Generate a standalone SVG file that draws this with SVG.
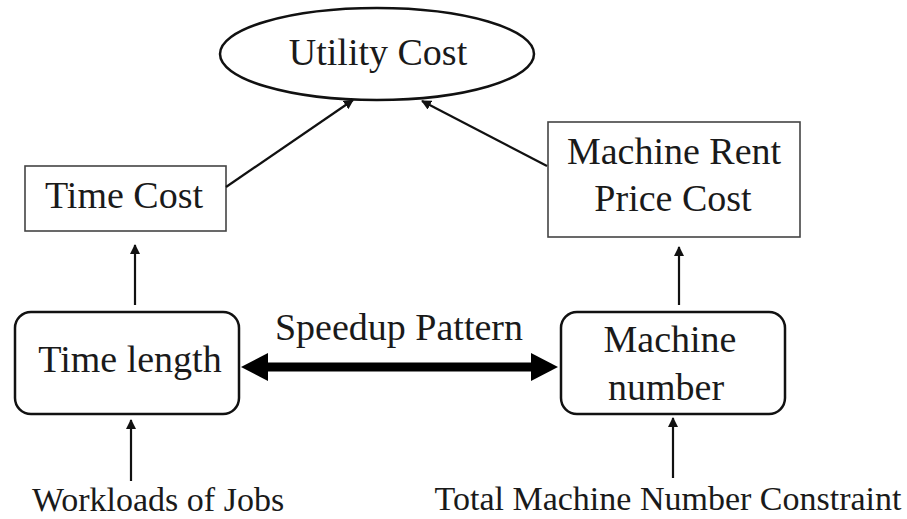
<svg xmlns="http://www.w3.org/2000/svg" width="907" height="519" viewBox="0 0 907 519">
<style>
text{font-family:"Liberation Serif","Times New Roman",serif;fill:#1a1a1a;text-anchor:middle}
.lbl{font-size:38px}
.src{font-size:34px}
.box{fill:#fff;stroke:#444;stroke-width:1.6}
.rbox{fill:#fff;stroke:#111;stroke-width:2.5}
.edge{stroke:#111;stroke-width:2.2;fill:none}
</style>
<defs>
<marker id="ah" markerWidth="10" markerHeight="10" refX="9" refY="5" orient="auto" markerUnits="userSpaceOnUse" viewBox="0 0 10 10">
<path d="M0,0 L10,5 L0,10 z" fill="#111"/>
</marker>
</defs>
<g id="utility-cost">
<ellipse cx="377" cy="54" rx="157" ry="46" fill="#fff" stroke="#111" stroke-width="2.5"/>
<text class="lbl" x="378" y="65">Utility Cost</text>
</g>
<g id="time-cost">
<rect class="box" x="25" y="166" width="201" height="65"/>
<text class="lbl" x="124" y="208">Time Cost</text>
</g>
<g id="machine-rent-price-cost">
<rect class="box" x="548" y="122" width="252" height="115"/>
<text class="lbl" x="674" y="164">Machine Rent</text>
<text class="lbl" x="673" y="211">Price Cost</text>
</g>
<g id="time-length">
<rect class="rbox" x="15" y="312" width="224" height="102" rx="16"/>
<text class="lbl" x="130" y="372">Time length</text>
</g>
<g id="machine-number">
<rect class="rbox" x="561" y="312" width="224" height="102" rx="16"/>
<text class="lbl" x="670" y="352">Machine</text>
<text class="lbl" x="666" y="400">number</text>
</g>
<g id="workloads">
<text class="src" x="158" y="511">Workloads of Jobs</text>
</g>
<g id="constraint">
<text class="src" x="668" y="510">Total Machine Number Constraint</text>
</g>
<g id="connectors">
<line class="edge" x1="226" y1="187" x2="353" y2="100" marker-end="url(#ah)"/>
<line class="edge" x1="547" y1="166" x2="422" y2="101" marker-end="url(#ah)"/>
<line class="edge" x1="135" y1="305" x2="135" y2="245" marker-end="url(#ah)"/>
<line class="edge" x1="679" y1="305" x2="679" y2="247" marker-end="url(#ah)"/>
<line class="edge" x1="131" y1="481" x2="131" y2="420" marker-end="url(#ah)"/>
<line class="edge" x1="673" y1="478" x2="673" y2="418" marker-end="url(#ah)"/>
<g id="speedup-pattern">
<rect x="266" y="362.5" width="267" height="9" fill="#000"/>
<path d="M241,367 L268,353 L268,381 z" fill="#000"/>
<path d="M558,367 L531,353 L531,381 z" fill="#000"/>
<text class="lbl" x="399" y="340">Speedup Pattern</text>
</g>
</g>
</svg>
